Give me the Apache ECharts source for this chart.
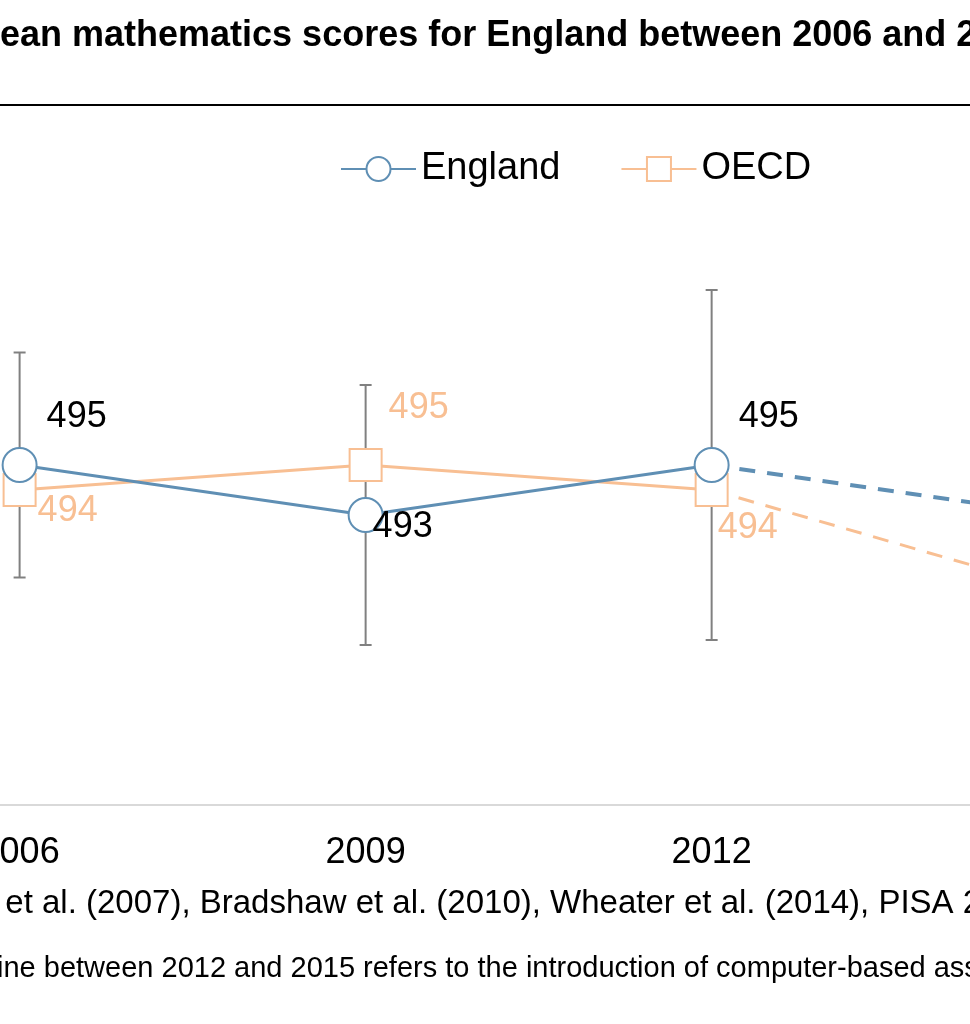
<!DOCTYPE html>
<html><head><meta charset="utf-8">
<script src="https://cdn.jsdelivr.net/npm/echarts@6/dist/echarts.min.js"></script>
<style>html,body{margin:0;padding:0;background:#fff}#c{width:970px;height:1024px}</style>
</head><body><div id="c"></div>
<script>
// 数据
const years = [2006, 2009, 2012];
const englandScores = [495, 493, 495];
const oecdScores = [494, 495, 494];
const england2015 = 493;
const oecd2015 = 490;
const errLow = [490.5, 487.8, 488];
const errHigh = [499.5, 498.2, 502];
const tickYears = [2006, 2009, 2012, 2015];

const blue = '#5f8fb4';
const peach = '#f8bf93';
const labelFont = { fontSize: 36, fontFamily: 'Liberation Sans, Arial' };

const myChart = echarts.init(document.getElementById('c'));

const option = {
    animation: false,
    graphic: [
        { type: 'text', left: -30, top: 18, style: { text: 'Mean mathematics scores for England between 2006 and 2015', font: 'bold 36px Liberation Sans, Arial', fill: '#000' } },
        { type: 'line', shape: { x1: 0, y1: 105, x2: 970, y2: 105 }, style: { stroke: '#000', lineWidth: 2 } },
        { type: 'text', left: -290, top: 887, style: { text: 'Sources: Bradshaw et al. (2007), Bradshaw et al. (2010), Wheater et al. (2014), PISA 2015', font: '33px Liberation Sans, Arial', fill: '#000' } },
        { type: 'text', left: -248, top: 954, style: { text: 'Note: The dashed line between 2012 and 2015 refers to the introduction of computer-based assessment.', font: '29px Liberation Sans, Arial', fill: '#000' } }
    ],
    legend: {
        left: 335, top: 145,
        data: ['England', 'OECD'],
        itemWidth: 75, itemHeight: 30, itemGap: 60,
        textStyle: { fontSize: 38, fontFamily: 'Liberation Sans, Arial', color: '#000' }
    },
    grid: { left: 0, right: 0, top: 105, bottom: 219, outerBoundsMode: 'none', containLabel: false },
    xAxis: {
        type: 'value', min: 2005.83, max: 2014.24,
        splitLine: { show: false },
        axisTick: { show: false },
        axisLine: { lineStyle: { color: '#d9d9d9', width: 2 } },
        axisLabel: { customValues: tickYears, formatter: v => String(v), fontSize: 36, color: '#000', margin: 30, fontFamily: 'Liberation Sans, Arial' }
    },
    yAxis: { type: 'value', min: 481.4, max: 509.4, show: false, splitLine: { show: false } },
    series: [
        {
            type: 'custom', name: 'err', z: 1,
            data: years.map((y, i) => [y, errLow[i], errHigh[i]]),
            renderItem: (params, api) => {
                const lo = api.coord([api.value(0), api.value(1)]);
                const hi = api.coord([api.value(0), api.value(2)]);
                const st = { stroke: '#808080', lineWidth: 2 };
                return { type: 'group', children: [
                    { type: 'line', shape: { x1: lo[0], y1: lo[1], x2: hi[0], y2: hi[1] }, style: st },
                    { type: 'line', shape: { x1: lo[0] - 6, y1: lo[1], x2: lo[0] + 6, y2: lo[1] }, style: st },
                    { type: 'line', shape: { x1: hi[0] - 6, y1: hi[1], x2: hi[0] + 6, y2: hi[1] }, style: st }
                ] };
            }
        },
        {
            name: 'England', type: 'line', z: 3,
            data: years.map((y, i) => [y, englandScores[i]]),
            symbol: 'emptyCircle', symbolSize: 34,
            lineStyle: { color: blue, width: 3 },
            itemStyle: { color: blue, borderColor: blue, borderWidth: 3 },
            label: {
                show: true, color: '#000', ...labelFont,
                formatter: p => p.value[1],
                position: [45, -48]
            },
            labelLayout: p => p.dataIndex === 1 ? { dy: 60, dx: -20 } : {}
        },
        {
            name: 'England2015', type: 'line', z: 2,
            data: [[2012, englandScores[2]], [2015, england2015]],
            symbol: 'none',
            lineStyle: { color: blue, width: 4, type: [16, 12] }
        },
        {
            name: 'OECD', type: 'line', z: 2,
            data: years.map((y, i) => [y, oecdScores[i]]),
            symbol: 'emptyRect', symbolSize: 32,
            lineStyle: { color: peach, width: 3 },
            itemStyle: { color: peach, borderColor: peach, borderWidth: 3 },
            label: {
                show: true, color: peach, ...labelFont,
                formatter: p => p.value[1],
                position: [35, 20]
            },
            labelLayout: p => p.dataIndex === 1 ? { dy: -78, dx: 5 } : (p.dataIndex === 2 ? { dy: 17, dx: -12 } : {})
        },
        {
            name: 'OECD2015', type: 'line', z: 1,
            data: [[2012, oecdScores[2]], [2015, oecd2015]],
            symbol: 'none',
            lineStyle: { color: peach, width: 3, type: [16, 12] }
        }
    ]
};

myChart.setOption(option);
</script>
</body></html>
